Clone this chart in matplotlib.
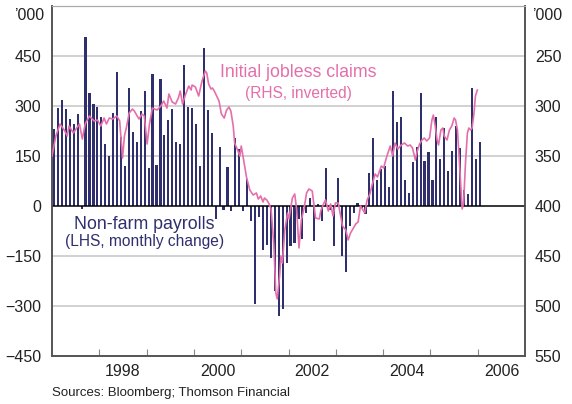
import numpy as np
import matplotlib.pyplot as plt

plt.rcParams['font.family'] = ['Liberation Sans', 'DejaVu Sans']

# monthly change in non-farm payrolls, '000, Jan 1997 - Jan 2006
payrolls = [
    232, 295, 318, 291, 262, 246, 276, -8, 507, 340, 307, 298,        # 1997
    268, 187, 150, 280, 401, 206, 121, 355, 221, 193, 286, 345,       # 1998
    114, 396, 124, 382, 214, 259, 291, 193, 187, 422, 297, 294,       # 1999
    246, 121, 475, 288, 220, -40, 176, -12, 118, -15, 205, 170,       # 2000
    -15, 80, -45, -295, -33, -133, -118, -156, -256, -330, -309, -171,  # 2001
    -121, -111, -40, -100, -20, 25, -106, 5, -46, 114, -11, -121,     # 2002
    84, -151, -199, -60, -21, 9, -5, -25, 98, 203, 79, 112,           # 2003
    120, 56, 346, 252, 266, 79, 39, 132, 178, 339, 134, 161,          # 2004
    77, 268, 141, 235, 106, 166, 241, 175, 49, 37, 354, 141,          # 2005
    193,                                                              # 2006
]
start_year = 1997

# initial jobless claims, '000 (decimal year, level)
claims_date = [
    1997.00, 1997.08, 1997.17, 1997.27, 1997.32, 1997.36, 1997.45, 1997.52,
    1997.58, 1997.64, 1997.70, 1997.79, 1997.89, 1997.96, 1998.03, 1998.10,
    1998.15, 1998.21, 1998.28, 1998.37, 1998.43, 1998.49, 1998.53, 1998.57,
    1998.63, 1998.70, 1998.74, 1998.80, 1998.84, 1998.90, 1998.95, 1999.01,
    1999.06, 1999.12, 1999.22, 1999.30, 1999.36, 1999.43, 1999.47, 1999.54,
    1999.61, 1999.67, 1999.71, 1999.76, 1999.81, 1999.85, 1999.89, 1999.94,
    1999.96, 2000.03, 2000.07, 2000.10, 2000.17, 2000.24, 2000.27, 2000.31,
    2000.36, 2000.39, 2000.43, 2000.48, 2000.53, 2000.58, 2000.64, 2000.69,
    2000.74, 2000.78, 2000.83, 2000.86, 2000.93, 2000.97, 2001.00, 2001.06,
    2001.11, 2001.18, 2001.25, 2001.32, 2001.36, 2001.41, 2001.46, 2001.49,
    2001.54, 2001.59, 2001.63, 2001.69, 2001.73, 2001.76, 2001.81, 2001.84,
    2001.87, 2001.92, 2001.98, 2002.01, 2002.08, 2002.13, 2002.17, 2002.22,
    2002.27, 2002.33, 2002.38, 2002.43, 2002.50, 2002.57, 2002.65, 2002.68,
    2002.72, 2002.78, 2002.84, 2002.89, 2002.94, 2002.99, 2003.05, 2003.09,
    2003.14, 2003.21, 2003.26, 2003.31, 2003.37, 2003.42, 2003.47, 2003.52,
    2003.57, 2003.61, 2003.66, 2003.72, 2003.76, 2003.83, 2003.88, 2003.96,
    2004.01, 2004.06, 2004.10, 2004.15, 2004.20, 2004.25, 2004.31, 2004.38,
    2004.45, 2004.52, 2004.57, 2004.62, 2004.68, 2004.72, 2004.77, 2004.82,
    2004.87, 2004.92, 2004.98, 2005.03, 2005.06, 2005.10, 2005.14, 2005.17,
    2005.22, 2005.26, 2005.29, 2005.35, 2005.40, 2005.45, 2005.50, 2005.53,
    2005.57, 2005.60, 2005.64, 2005.67, 2005.70, 2005.74, 2005.78, 2005.81,
    2005.85, 2005.88, 2005.92, 2005.95, 2005.99,
]
claims = [
    350, 330, 318, 325, 330, 320, 327, 322,
    318, 333, 318, 310, 315, 314, 320, 312,
    318, 312, 313, 310, 315, 352, 330, 322,
    307, 303, 305, 310, 313, 308, 310, 338,
    318, 302, 304, 300, 295, 302, 288, 296,
    298, 292, 285, 298, 290, 285, 280, 284,
    279, 281, 286, 290, 275, 265, 267, 278,
    283, 282, 285, 290, 295, 308, 312, 304,
    301, 305, 320, 337, 345, 350, 340, 357,
    371, 384, 389, 387, 393, 390, 396, 392,
    394, 398, 403, 440, 487, 493, 470, 450,
    457, 424, 407, 413, 392, 388, 403, 442,
    414, 402, 387, 383, 385, 412, 413, 405,
    400, 394, 405, 398, 410, 397, 397, 407,
    420, 424, 434, 427, 422, 418, 416, 400,
    404, 407, 394, 388, 380, 368, 371, 360,
    362, 353, 347, 340, 350, 337, 343, 339,
    337, 340, 339, 342, 354, 345, 338, 334,
    332, 335, 332, 314, 309, 320, 334, 339,
    324, 322, 330, 334, 324, 320, 312, 314,
    324, 347, 380, 403, 397, 357, 327, 322,
    324, 322, 307, 290, 284,
]

year_ticks = list(range(1998, 2007))
year_labels = ['1998', '2000', '2002', '2004', '2006']
left_ticks = [-450, -300, -150, 0, 150, 300, 450]
right_ticks = [250, 300, 350, 400, 450, 500, 550]

navy = '#2f2f6e'
pink = '#e46fab'
grey = '#c9c9cc'

months = start_year + (np.arange(len(payrolls)) + 0.5) / 12

fig = plt.figure(figsize=(5.72, 4.04), dpi=100)
ax = fig.add_axes([0.091, 0.119, 0.827, 0.866])

for v in left_ticks:
    if v != 0:
        ax.axhline(v, color=grey, lw=1.2, zorder=0)
ax.axhline(0, color='black', lw=1.1, zorder=3)

ax.bar(months, payrolls, width=0.55 / 12, color=navy, zorder=2)

ax.set_xlim(1997, 2007)
ax.set_ylim(-450, 600)
ax.set_yticks(left_ticks)
ax.set_xticks(year_ticks)
ax.set_xticklabels([])
ax.set_xticks([int(y) + 0.5 for y in year_labels], minor=True)
ax.set_xticklabels(year_labels, minor=True)
ax.tick_params(axis='x', which='major', direction='in', length=5, color='#888888')
ax.tick_params(axis='x', which='minor', length=0, pad=6, labelsize=11.5, labelcolor='#222222')
ax.tick_params(axis='y', length=0, pad=8, labelsize=11.5, labelcolor='#222222')

ax2 = ax.twinx()
ax2.plot(claims_date, claims, color=pink, lw=1.2, zorder=4)
ax2.set_ylim(550, 200)
ax2.set_yticks(right_ticks)
ax2.tick_params(axis='y', length=0, pad=7, labelsize=11.5, labelcolor='#222222')

for a in (ax, ax2):
    for side in ('left', 'right', 'bottom'):
        a.spines[side].set_color('#555555')
        a.spines[side].set_linewidth(1.2)
    a.spines['top'].set_color('#aaaaaa')

# unit labels at the top of both axes
fig.text(0.091 - 0.014, 0.962, '\u2019000', fontsize=11.5, color='#222222',
         ha='right', va='center')
fig.text(0.918 + 0.012, 0.962, '\u2019000', fontsize=11.5, color='#222222',
         ha='left', va='center')

ax.text(2002.2, 400, 'Initial jobless claims', color=pink, fontsize=12.8,
        ha='center', va='center')
ax.text(2002.2, 337, '(RHS, inverted)', color=pink, fontsize=11.2,
        ha='center', va='center')
ax.text(1998.95, -55, 'Non-farm payrolls', color=navy, fontsize=12.8,
        ha='center', va='center')
ax.text(1998.95, -107, '(LHS, monthly change)', color=navy, fontsize=11.2,
        ha='center', va='center')

fig.text(0.091, 0.027, 'Sources: Bloomberg; Thomson Financial', fontsize=9.5,
         color='#222222', ha='left', va='center')

fig.savefig('out.png', dpi=100)
